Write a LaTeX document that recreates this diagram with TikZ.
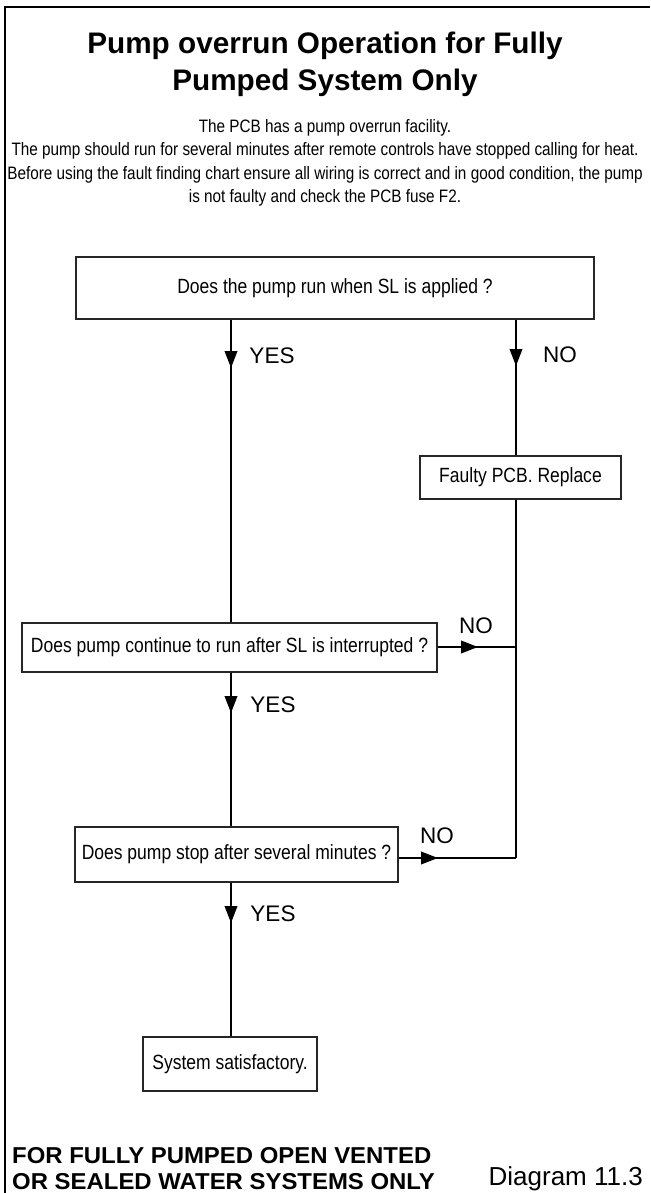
\documentclass[tikz,border=0pt]{standalone}
\usepackage{fontspec}
\setmainfont{Liberation Sans}
\newfontfamily\narrowfont{Liberation Sans}[FakeStretch=0.85]
\newfontfamily\widebold{Liberation Sans Bold}[FakeStretch=1.04]
\usetikzlibrary{arrows.meta}
\tikzset{
  frameline/.style={line width=1.6pt, black},
  box/.style={draw=black!85, line width=1.1pt, inner sep=0pt, font=\narrowfont\fontsize{20.6}{24}\selectfont},
  conn/.style={line width=2.1pt, black},
  arr/.style={conn, -{Triangle[width=12.5pt,length=17pt]}},
  lbl/.style={inner sep=0pt, anchor=base, font=\fontsize{22.5}{26}\selectfont},
  bodytext/.style={inner sep=0pt, anchor=base, font=\narrowfont\fontsize{18}{22}\selectfont},
  titletext/.style={inner sep=0pt, anchor=base, font=\bfseries\fontsize{29.7}{34}\selectfont},
  foottext/.style={inner sep=0pt, anchor=base west, font=\widebold\fontsize{23}{26}\selectfont}
}
\begin{document}
\begin{tikzpicture}[x=1pt, y=-1pt]
\useasboundingbox (0,0) rectangle (650,1193);
% partial frame
\draw[frameline] (5,1193) -- (5,7) -- (650,7);
% title and intro
\node[titletext] (t1) at (325,54) {Pump overrun Operation for Fully};
\node[titletext] (t2) at (325,91) {Pumped System Only};
\node[bodytext] (p1) at (325,133) {The PCB has a pump overrun facility.};
\node[bodytext] (p2) at (325,156) {The pump should run for several minutes after remote controls have stopped calling for heat.};
\node[bodytext] (p3) at (325,179) {Before using the fault finding chart ensure all wiring is correct and in good condition, the pump};
\node[bodytext] (p4) at (325,202) {is not faulty and check the PCB fuse F2.};
% boxes
\node[box, minimum width=518pt, minimum height=62pt] (b1) at (335,288) {Does the pump run when SL is applied ?};
\node[box, minimum width=201pt, minimum height=43pt] (bf) at (520.5,477.5) {Faulty PCB. Replace};
\node[box, minimum width=415pt, minimum height=49pt] (b2) at (229.5,647.5) {Does pump continue to run after SL is interrupted ?};
\node[box, minimum width=323pt, minimum height=55pt] (b3) at (236.5,854.5) {Does pump stop after several minutes ?};
\node[box, minimum width=174pt, minimum height=54pt] (b4) at (230,1064) {System satisfactory.};
% reference columns
\coordinate (yx) at (231,0);
\coordinate (nx) at (516,0);
% arrow tip positions
\coordinate (ay1) at (231,368);
\coordinate (an1) at (516,366);
\coordinate (ay2) at (231,713);
\coordinate (ay3) at (231,923);
\coordinate (an2) at (478,647);
\coordinate (an3) at (438,858);
\coordinate (j2) at (516,647);
\coordinate (j3) at (516,858);
% connectors
\draw[conn] (b1.south -| yx) -- (b2.north -| yx);
\draw[arr] (b1.south -| yx) -- (ay1);
\draw[conn] (b1.south -| nx) -- (bf.north -| nx);
\draw[arr] (b1.south -| nx) -- (an1);
\draw[conn] (b2.south -| yx) -- (b3.north -| yx);
\draw[arr] (b2.south -| yx) -- (ay2);
\draw[conn] (b3.south -| yx) -- (b4.north -| yx);
\draw[arr] (b3.south -| yx) -- (ay3);
\draw[conn] (bf.south -| nx) -- (j3);
\draw[conn] (b2.east |- j2) -- (j2);
\draw[arr] (b2.east |- j2) -- (an2);
\draw[conn] (b3.east |- j3) -- (j3);
\draw[arr] (b3.east |- j3) -- (an3);
% labels
\node[lbl] (l1) at (272,363) {YES};
\node[lbl] (l2) at (560,362) {NO};
\node[lbl] (l3) at (476,633) {NO};
\node[lbl] (l4) at (273,712) {YES};
\node[lbl] (l5) at (437,843) {NO};
\node[lbl] (l6) at (273,921) {YES};
% footer
\node[foottext] (f1) at (12,1163) {FOR FULLY PUMPED OPEN VENTED};
\node[foottext] (f2) at (12,1189) {OR SEALED WATER SYSTEMS ONLY};
\node[inner sep=0pt, anchor=base east, font=\fontsize{26}{30}\selectfont] (dg) at (643,1185) {Diagram 11.3};
\end{tikzpicture}
\end{document}
